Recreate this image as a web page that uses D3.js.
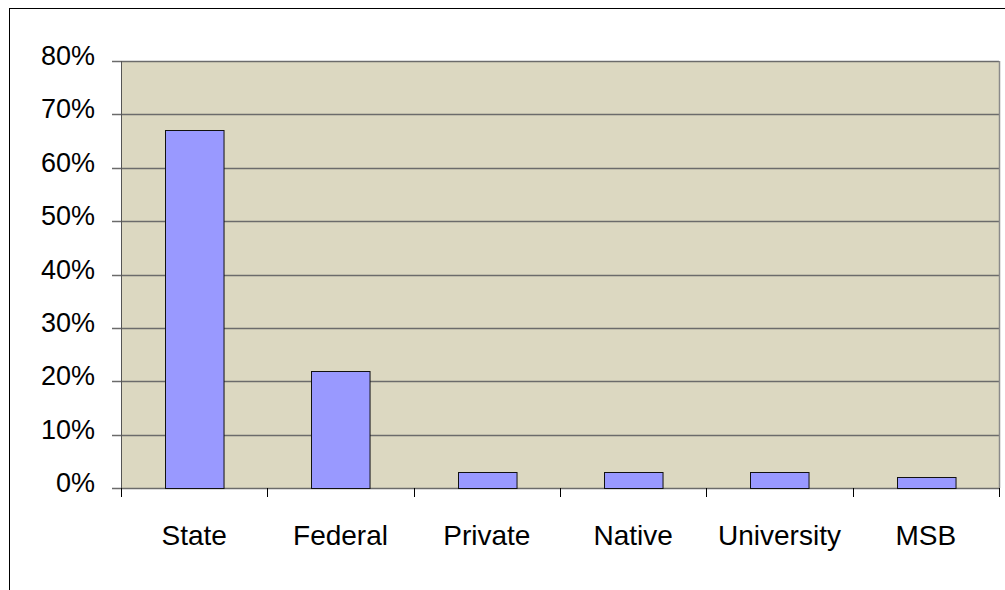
<!DOCTYPE html>
<html>
<head>
<meta charset="utf-8">
<script src="https://cdn.jsdelivr.net/npm/d3@7"></script>
<style>
  body { margin: 0; background: #fff; }
  svg { display: block; }
</style>
</head>
<body>
<div id="chart"></div>
<script>
// chart data
const categories = ["State", "Federal", "Private", "Native", "University", "MSB"];
const shares = [0.67, 0.22, 0.03, 0.03, 0.03, 0.02];
const yTicks = [0, 0.1, 0.2, 0.3, 0.4, 0.5, 0.6, 0.7, 0.8];

const W = 1005, H = 590;
const plot = { left: 121, right: 999, top: 61, bottom: 488 };

const svg = d3.select("#chart").append("svg")
    .attr("width", W)
    .attr("height", H);

// outer chart frame (runs off the right and bottom)
svg.append("rect")
    .attr("x", 9.5).attr("y", 8.5)
    .attr("width", W + 20).attr("height", H + 20)
    .attr("fill", "#fff")
    .attr("stroke", "#000");

const x = d3.scaleBand()
    .domain(categories)
    .range([plot.left, plot.right])
    .paddingInner(0.6)
    .paddingOuter(0.3);

const y = d3.scaleLinear()
    .domain([0, 0.8])
    .range([plot.bottom, plot.top]);

// plot background
svg.append("rect")
    .attr("x", plot.left).attr("y", plot.top)
    .attr("width", plot.right - plot.left)
    .attr("height", plot.bottom - plot.top)
    .attr("fill", "#dcd8c1");

// gridlines + y ticks
svg.append("g")
    .selectAll("line")
    .data(yTicks)
    .join("line")
    .attr("x1", plot.left - 9)
    .attr("x2", plot.right)
    .attr("y1", d => Math.round(y(d)) + 0.5)
    .attr("y2", d => Math.round(y(d)) + 0.5)
    .attr("stroke", "#6b6b6b")
    .attr("stroke-width", 1.5);

// right border of plot
svg.append("line")
    .attr("x1", plot.right + 0.5).attr("x2", plot.right + 0.5)
    .attr("y1", plot.top).attr("y2", plot.bottom)
    .attr("stroke", "#8a8a8a")
    .attr("stroke-width", 1.5);

// y axis line
svg.append("line")
    .attr("x1", plot.left + 0.5).attr("x2", plot.left + 0.5)
    .attr("y1", plot.top).attr("y2", plot.bottom + 9)
    .attr("stroke", "#555")
    .attr("stroke-width", 1);

// category boundary ticks
const step = x.step();
const bounds = d3.range(categories.length + 1).map(i => plot.left + i * (plot.right - plot.left) / categories.length);
svg.append("g")
    .selectAll("line")
    .data(bounds)
    .join("line")
    .attr("x1", d => Math.round(d) + 0.5)
    .attr("x2", d => Math.round(d) + 0.5)
    .attr("y1", plot.bottom)
    .attr("y2", plot.bottom + 9)
    .attr("stroke", "#000");

// bars
svg.append("g")
    .selectAll("rect")
    .data(categories)
    .join("rect")
    .attr("x", d => Math.round(x(d)) + 0.5)
    .attr("y", (d, i) => Math.round(y(shares[i])) + 0.5)
    .attr("width", x.bandwidth())
    .attr("height", (d, i) => Math.round(y(0)) - Math.round(y(shares[i])))
    .attr("fill", "#9999ff")
    .attr("stroke", "#111")
    .attr("stroke-width", 1);

// y labels
svg.append("g")
    .selectAll("text")
    .data(yTicks)
    .join("text")
    .attr("x", 95)
    .attr("y", d => y(d) + 4)
    .attr("text-anchor", "end")
    .attr("font-family", "Liberation Sans, Arial, sans-serif")
    .attr("font-size", 27)
    .attr("fill", "#000")
    .text(d => d3.format(".0%")(d));

// x labels
svg.append("g")
    .selectAll("text")
    .data(categories)
    .join("text")
    .attr("x", d => x(d) + x.bandwidth() / 2)
    .attr("y", 545)
    .attr("text-anchor", "middle")
    .attr("font-family", "Liberation Sans, Arial, sans-serif")
    .attr("font-size", 28)
    .attr("fill", "#000")
    .text(d => d);
</script>
</body>
</html>
